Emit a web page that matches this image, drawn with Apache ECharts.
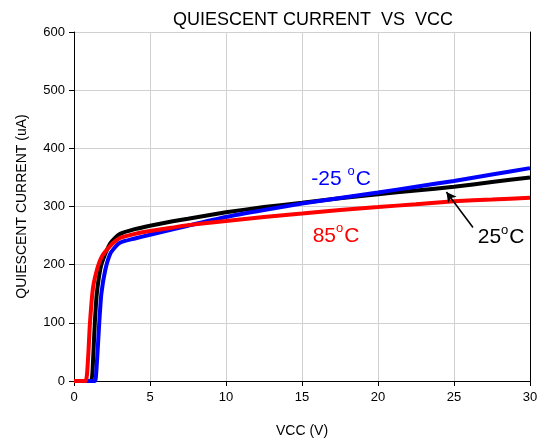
<!DOCTYPE html>
<html><head><meta charset="utf-8">
<script src="https://cdn.jsdelivr.net/npm/echarts@6/dist/echarts.min.js"></script>
<style>html,body{margin:0;padding:0;background:#fff}#c{width:546px;height:444px}</style>
</head><body><div id="c"></div>
<script>
const xTicks = [0,5,10,15,20,25,30];
const yTicks = [0,100,200,300,400,500,600];
const vccBlack = [0,1.1,1.2,1.28,1.37,1.5,1.75,2.0,2.37,2.7,3.03,4,5,6.5,7.5,10,12.5,15,17.5,20,22.5,25,27.5,30];
const iqBlack  = [0,0,10,50,100,150,195,215,236,246,253,261,267,274.5,279,290,299,306.5,314,321,327.5,334,342,350];
const vccBlue  = [0,1.38,1.45,1.55,1.66,1.8,2.05,2.37,2.7,3.03,4,5,6.5,7.5,10,12.5,15,17.5,20,22.5,25,27.5,30];
const iqBlue   = [0,0,10,50,100,150,190,218,230,238,245,251.5,261,267,282,294,305,314.5,324,334,344,355,366];
const vccRed   = [0,0.75,0.85,0.95,1.05,1.25,1.55,1.85,2.37,2.7,3.03,4,5,6.5,7.5,10,12.5,15,17.5,20,22.5,25,27.5,30];
const iqRed    = [0,0,10,50,100,160,195,215,232,240,246,253,258,264,268,275,282,288,294,299,304,309,312,315];
const labelBlue = ['-25 ','C']; const labelRed = ['85','C']; const labelBlack = ['25','C'];
const arrow = [[26.25,264],[24.5,325]];

const pair = (xs, ys) => xs.map((x,i)=>[x, ys[i]]);
const rich = (col) => ({
  a:{fontSize:21,color:col,fontFamily:'Liberation Sans, Arial',lineHeight:24,verticalAlign:'bottom'},
  d:{fontSize:13,color:col,fontFamily:'Liberation Sans, Arial',lineHeight:24,verticalAlign:'top',padding:[0,1,0,0]}
});
const lbl = (parts, col) => ({show:true, position:'inside', formatter:'{a|'+parts[0]+'}{d|o}{a|'+parts[1]+'}', rich:rich(col)});

const chart = echarts.init(document.getElementById('c'));
chart.setOption({
  animation:false,
  title:{text:'QUIESCENT CURRENT  VS  VCC', left:308, textAlign:'center', top:6,
    textStyle:{fontFamily:'Liberation Sans, Arial', fontSize:18, fontWeight:'normal', color:'#000'}},
  grid:{left:74, right:16, top:32, bottom:63},
  xAxis:{type:'value', min:0, max:30, interval:5,
    name:'VCC (V)', nameLocation:'middle', nameGap:43,
    nameTextStyle:{fontFamily:'Liberation Sans, Arial', fontSize:14, color:'#000'},
    axisLine:{lineStyle:{color:'#000', width:1}},
    axisTick:{show:true, length:5, lineStyle:{color:'#000'}},
    axisLabel:{fontFamily:'Liberation Sans, Arial', fontSize:13, color:'#000', margin:10},
    splitLine:{show:true, lineStyle:{color:'#d0d0d0', width:1}}},
  yAxis:[{type:'value', min:0, max:600, interval:100,
    name:'QUIESCENT CURRENT (uA)', nameLocation:'middle', nameGap:45,
    nameTextStyle:{fontFamily:'Liberation Sans, Arial', fontSize:14, color:'#000'},
    axisLine:{show:true, lineStyle:{color:'#000', width:1}},
    axisTick:{show:true, length:5, lineStyle:{color:'#000'}},
    axisLabel:{fontFamily:'Liberation Sans, Arial', fontSize:13, color:'#000', margin:9},
    splitLine:{show:true, lineStyle:{color:'#d0d0d0', width:1}}},
   {type:'value', min:0, max:600, interval:100, position:'right',
    axisLine:{show:true, lineStyle:{color:'#000', width:1}},
    axisTick:{show:false}, axisLabel:{show:false}, splitLine:{show:false}}],
  series:[
    {type:'line', name:'25C', data:pair(vccBlack, iqBlack), showSymbol:false, smooth:0.2,
     lineStyle:{color:'#000000', width:4}, z:2,
     markPoint:{symbol:'circle', symbolSize:0, data:[{coord:[28.1,250], label:lbl(labelBlack,'#000')}]},
     markLine:{silent:true, symbol:['none','arrow'], symbolSize:[8,10], label:{show:false},
       lineStyle:{color:'#000', width:1.5, type:'solid'},
       data:[[{coord:arrow[0]},{coord:arrow[1]}]]}},
    {type:'line', name:'-25C', data:pair(vccBlue, iqBlue), showSymbol:false, smooth:0.2,
     lineStyle:{color:'#0000ff', width:4}, z:3,
     markPoint:{symbol:'circle', symbolSize:0, data:[{coord:[17.57,350], label:lbl(labelBlue,'#0000ff')}]}},
    {type:'line', name:'85C', data:pair(vccRed, iqRed), showSymbol:false, smooth:0.2,
     lineStyle:{color:'#ff0000', width:4}, z:4,
     markPoint:{symbol:'circle', symbolSize:0, data:[{coord:[17.24,252], label:lbl(labelRed,'#ff0000')}]}}
  ]
});
</script></body></html>
